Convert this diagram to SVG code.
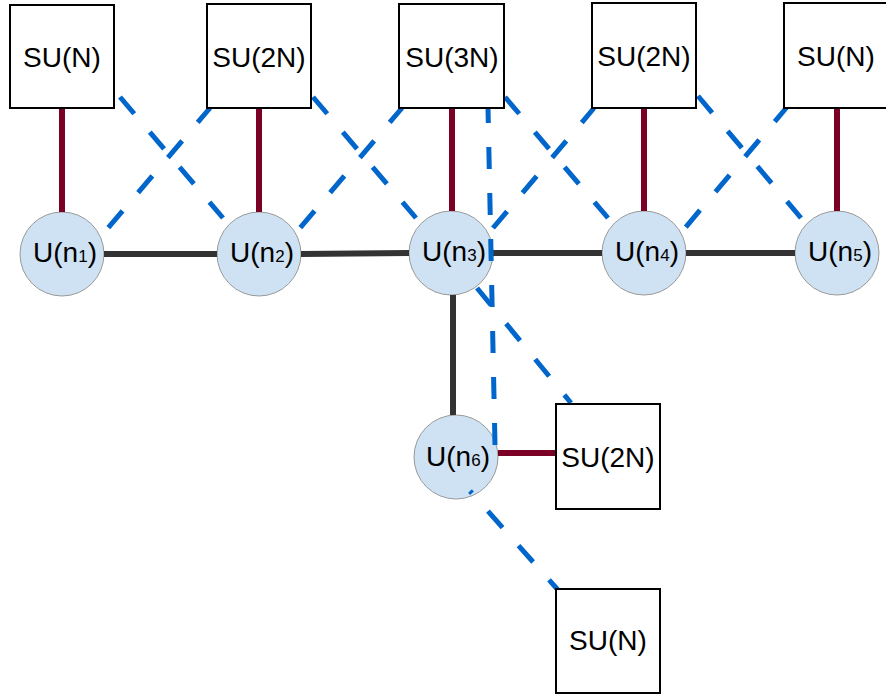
<svg xmlns="http://www.w3.org/2000/svg" width="886" height="695" viewBox="0 0 886 695">
<style>
.box{fill:#fff;stroke:#000;stroke-width:2}
.node{fill:#cfe2f3;stroke:#999;stroke-width:1}
.t{font-family:"Liberation Sans",Arial,sans-serif;font-size:28px;fill:#000;text-anchor:middle}
.sub{font-size:17px}
.red{stroke:#7a0025;stroke-width:6;fill:none}
.gray{stroke:#333;stroke-width:6;fill:none}
.dash{stroke:#0066cc;stroke-width:5;fill:none;stroke-dasharray:22 24}
</style>
<rect width="886" height="695" fill="#fff"/>
<g id="circles">
<g id="n1"><circle class="node" cx="62" cy="254" r="42"/><text class="t" x="65" y="262">U(n<tspan class="sub">1</tspan>)</text></g>
<g id="n2"><circle class="node" cx="259" cy="254" r="42"/><text class="t" x="262" y="262">U(n<tspan class="sub">2</tspan>)</text></g>
<g id="n3"><circle class="node" cx="451" cy="253" r="42"/><text class="t" x="454" y="261">U(n<tspan class="sub">3</tspan>)</text></g>
<g id="n4"><circle class="node" cx="644" cy="253" r="42"/><text class="t" x="647" y="261">U(n<tspan class="sub">4</tspan>)</text></g>
<g id="n5"><circle class="node" cx="837" cy="253" r="42"/><text class="t" x="840" y="261">U(n<tspan class="sub">5</tspan>)</text></g>
<g id="n6"><circle class="node" cx="456" cy="457" r="42"/><text class="t" x="458" y="466">U(n<tspan class="sub">6</tspan>)</text></g>
</g>
<g id="connectors">
<line class="gray" x1="104" y1="254" x2="217" y2="254"/>
<line class="gray" x1="301" y1="254" x2="409" y2="253"/>
<line class="gray" x1="493" y1="253" x2="602" y2="253"/>
<line class="gray" x1="686" y1="253" x2="795" y2="253"/>
<line class="gray" x1="453" y1="295" x2="453" y2="415"/>
<line class="red" x1="62" y1="108" x2="62" y2="212"/>
<line class="red" x1="259" y1="108" x2="259" y2="212"/>
<line class="red" x1="452" y1="108" x2="452" y2="211"/>
<line class="red" x1="644" y1="108" x2="644" y2="211"/>
<line class="red" x1="837" y1="108" x2="837" y2="211"/>
<line class="red" x1="498" y1="453" x2="556" y2="453"/>
<line class="dash" x1="120" y1="97" x2="223" y2="218"/>
<line class="dash" x1="210" y1="108" x2="108" y2="228" stroke-dashoffset="3"/>
<line class="dash" x1="313" y1="97" x2="416" y2="218"/>
<line class="dash" x1="402" y1="108" x2="300" y2="228" stroke-dashoffset="3"/>
<line class="dash" x1="488" y1="108" x2="495" y2="445" stroke-dashoffset="7"/>
<line class="dash" x1="505" y1="97" x2="608" y2="218"/>
<line class="dash" x1="594" y1="108" x2="493" y2="228" stroke-dashoffset="3"/>
<line class="dash" x1="698" y1="96" x2="801" y2="218"/>
<line class="dash" x1="787" y1="107" x2="685" y2="228" stroke-dashoffset="3"/>
<line class="dash" x1="477" y1="288" x2="571" y2="403"/>
<line class="dash" x1="470" y1="491" x2="558" y2="590" stroke-dashoffset="19"/>
</g>
<g id="s1"><rect class="box" x="10" y="5" width="104" height="103"/><text class="t" x="62" y="67">SU(N)</text></g>
<g id="s2"><rect class="box" x="207" y="4" width="104" height="104"/><text class="t" x="259" y="67">SU(2N)</text></g>
<g id="s3"><rect class="box" x="399" y="4" width="105" height="104"/><text class="t" x="452" y="67">SU(3N)</text></g>
<g id="s4"><rect class="box" x="592" y="3" width="104" height="105"/><text class="t" x="644" y="66">SU(2N)</text></g>
<g id="s5"><rect class="box" x="784" y="3" width="104" height="105"/><text class="t" x="836" y="66">SU(N)</text></g>
<g id="s6"><rect class="box" x="556" y="404" width="104" height="105"/><text class="t" x="608" y="467">SU(2N)</text></g>
<g id="s7"><rect class="box" x="556" y="589" width="104" height="104"/><text class="t" x="608" y="650">SU(N)</text></g>
</svg>
